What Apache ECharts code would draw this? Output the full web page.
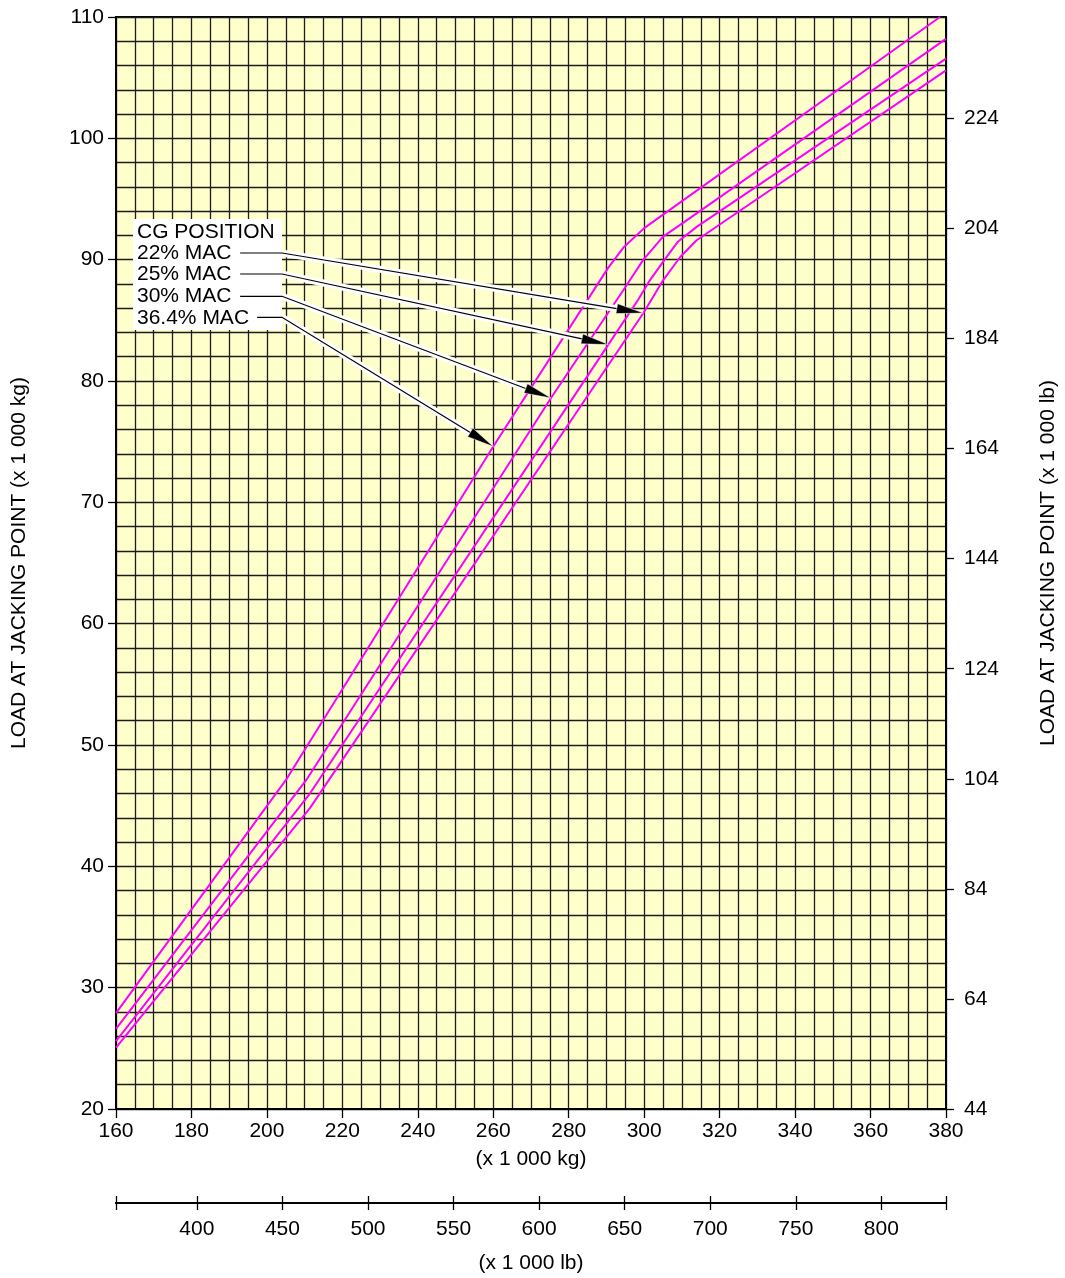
<!DOCTYPE html>
<html><head><meta charset="utf-8">
<script src="https://cdn.jsdelivr.net/npm/echarts@6/dist/echarts.min.js"></script>
<style>html,body{margin:0;padding:0;background:#fff}#c{width:1065px;height:1278px}</style>
</head><body><div id="c"></div>
<script>
// ---- data (x = aircraft weight x1000 kg, y = load at jacking point x1000 kg) ----
const mac364 = [[160,27.9],[205,47.1],[260,74.6],[290.4,89.3],[294.5,91.0],[300,92.6],[378.4,110]];
const mac30  = [[160,26.6],[210.4,47.1],[275.3,78.6],[294.5,87.5],[299.8,90.0],[305,91.9],[310.4,93.05],[380,108.2]];
const mac25  = [[160,25.6],[211.4,46.0],[290.5,83.0],[298.4,86.7],[301.5,88.3],[306,90.25],[309,91.5],[313.9,92.7],[380,106.57]];
const mac22  = [[160,25.05],[211.4,44.8],[299.8,85.6],[305,88.3],[309.5,90.2],[313.9,91.6],[380,105.6]];
const seriesNames = ['36.4% MAC','30% MAC','25% MAC','22% MAC'];
const lbTicks = [400,450,500,550,600,650,700,750,800];
const KG2LB = 2.20462;
// annotation leader lines: [labelEndX, labelY, elbowX, elbowY, tipX, tipY] in data units
const leaders = [
  [192.9,90.55,204.0,90.55,299.8,85.6],
  [192.9,88.82,204.0,88.82,290.5,83.0],
  [192.9,86.98,204.0,86.98,275.3,78.6],
  [197.4,85.25,204.0,85.25,260.0,74.6]
];
const legendLines = ['CG POSITION','22% MAC','25% MAC','30% MAC','36.4% MAC'];

const FONT = '"Liberation Sans", Arial, Helvetica, sans-serif';
const gridLine = {color:'#1c1c1c', width:1.3};
const chart = echarts.init(document.getElementById('c'), null, {renderer:'canvas'});

const lineSeries = [mac364, mac30, mac25, mac22].map((d,i)=>({
  name: seriesNames[i], type:'line', data:d, showSymbol:false, symbol:'none',
  xAxisIndex:0, yAxisIndex:0, clip:true, z:4,
  lineStyle:{color:'#FF00FF', width:2}
}));

const annot = {
  type:'custom', xAxisIndex:0, yAxisIndex:0, z:10, clip:false, silent:true,
  data: leaders,
  encode:{x:[0,2,4], y:[1,3,5]},
  renderItem:(params, api)=>{
    const p0 = api.coord([api.value(0),api.value(1)]);
    const p1 = api.coord([api.value(2),api.value(3)]);
    const p2 = api.coord([api.value(4),api.value(5)]);
    const dx = p2[0]-p1[0], dy = p2[1]-p1[1];
    const L = Math.sqrt(dx*dx+dy*dy); const ux = dx/L, uy = dy/L;
    const bx = p2[0]-ux*27, by = p2[1]-uy*27;
    const nx = -uy*5, ny = ux*5;
    return {type:'group', children:[
      {type:'polyline', shape:{points:[p0,p1,[bx,by]]}, style:{stroke:'#fff', lineWidth:7, fill:null}},
      {type:'polyline', shape:{points:[p0,p1,[bx,by]]}, style:{stroke:'#000', lineWidth:1.2, fill:null}},
      {type:'polygon', shape:{points:[p2,[bx+nx,by+ny],[bx-nx,by-ny]]}, style:{fill:'#000', stroke:'#fff', lineWidth:0.5}}
    ]};
  }
};

const graphics = [{type:'rect', shape:{x:133,y:219,width:149,height:111}, style:{fill:'#fff'}, z:5}];
legendLines.forEach((t,i)=>{
  graphics.push({type:'text', x:137, y:[232,253,274,296,318][i], z:6,
    style:{text:t, font:'21px '+FONT, fill:'#000', textVerticalAlign:'middle'}});
});

chart.setOption({
  animation:false,
  backgroundColor:'#fff',
  textStyle:{fontFamily:FONT},
  grid:[
    {left:116, top:17, width:830, height:1092, show:true, backgroundColor:'#FFFFCC', borderColor:'#000', borderWidth:2, containLabel:false, outerBoundsMode:'none'},
    {left:116, top:1203, width:830, height:0, containLabel:false, outerBoundsMode:'none'}
  ],
  xAxis:[
    {type:'value', gridIndex:0, min:160, max:380, interval:20, position:'bottom',
      axisLine:{lineStyle:{color:'#000', width:2}},
      axisTick:{show:true, length:9, lineStyle:{color:'#000', width:1.3}},
      axisLabel:{color:'#000', fontSize:21, margin:12, fontFamily:FONT},
      splitLine:{show:true, lineStyle:gridLine},
      minorTick:{show:false, splitNumber:4},
      minorSplitLine:{show:true, lineStyle:gridLine},
      name:'(x 1 000 kg)', nameLocation:'middle', nameGap:40,
      nameTextStyle:{color:'#000', fontSize:21, fontFamily:FONT}},
    {type:'value', gridIndex:1, min:160*KG2LB, max:380*KG2LB, position:'bottom',
      axisLine:{onZero:false, lineStyle:{color:'#000', width:2}},
      axisTick:{show:true, length:7, customValues:[160*KG2LB].concat(lbTicks,[380*KG2LB]), lineStyle:{color:'#000', width:1.3}},
      axisLabel:{show:true, customValues:lbTicks, color:'#000', fontSize:21, margin:16, fontFamily:FONT},
      splitLine:{show:false},
      name:'(x 1 000 lb)', nameLocation:'middle', nameGap:50,
      nameTextStyle:{color:'#000', fontSize:21, fontFamily:FONT}},
    {type:'value', gridIndex:1, min:160*KG2LB, max:380*KG2LB, position:'top',
      axisLine:{onZero:false, lineStyle:{color:'#000', width:2}},
      axisTick:{show:true, length:7, customValues:[160*KG2LB].concat(lbTicks,[380*KG2LB]), lineStyle:{color:'#000', width:1.3}},
      axisLabel:{show:false}, splitLine:{show:false}}
  ],
  yAxis:[
    {type:'value', gridIndex:0, min:20, max:110, interval:10, position:'left',
      axisLine:{show:true, lineStyle:{color:'#000', width:2}},
      axisTick:{show:true, length:8, lineStyle:{color:'#000', width:1.3}},
      axisLabel:{color:'#000', fontSize:21, margin:12, fontFamily:FONT},
      splitLine:{show:true, lineStyle:gridLine},
      minorTick:{show:false, splitNumber:5},
      minorSplitLine:{show:true, lineStyle:gridLine},
      name:'LOAD AT JACKING POINT (x 1 000 kg)', nameLocation:'middle', nameGap:86, nameRotate:90,
      nameTextStyle:{color:'#000', fontSize:21, fontFamily:FONT}},
    {type:'value', gridIndex:0, min:44, max:44+90*KG2LB, interval:20, position:'right',
      axisLine:{show:true, lineStyle:{color:'#000', width:2}},
      axisTick:{show:true, length:8, lineStyle:{color:'#000', width:1.3}},
      axisLabel:{color:'#000', fontSize:21, margin:18, fontFamily:FONT, showMaxLabel:false},
      splitLine:{show:false},
      name:'LOAD AT JACKING POINT (x 1 000 lb)', nameLocation:'middle', nameGap:92, nameRotate:90,
      nameTextStyle:{color:'#000', fontSize:21, fontFamily:FONT}},
    {type:'value', gridIndex:1, show:false}
  ],
  graphic: graphics,
  series: lineSeries.concat([annot])
});
</script></body></html>
